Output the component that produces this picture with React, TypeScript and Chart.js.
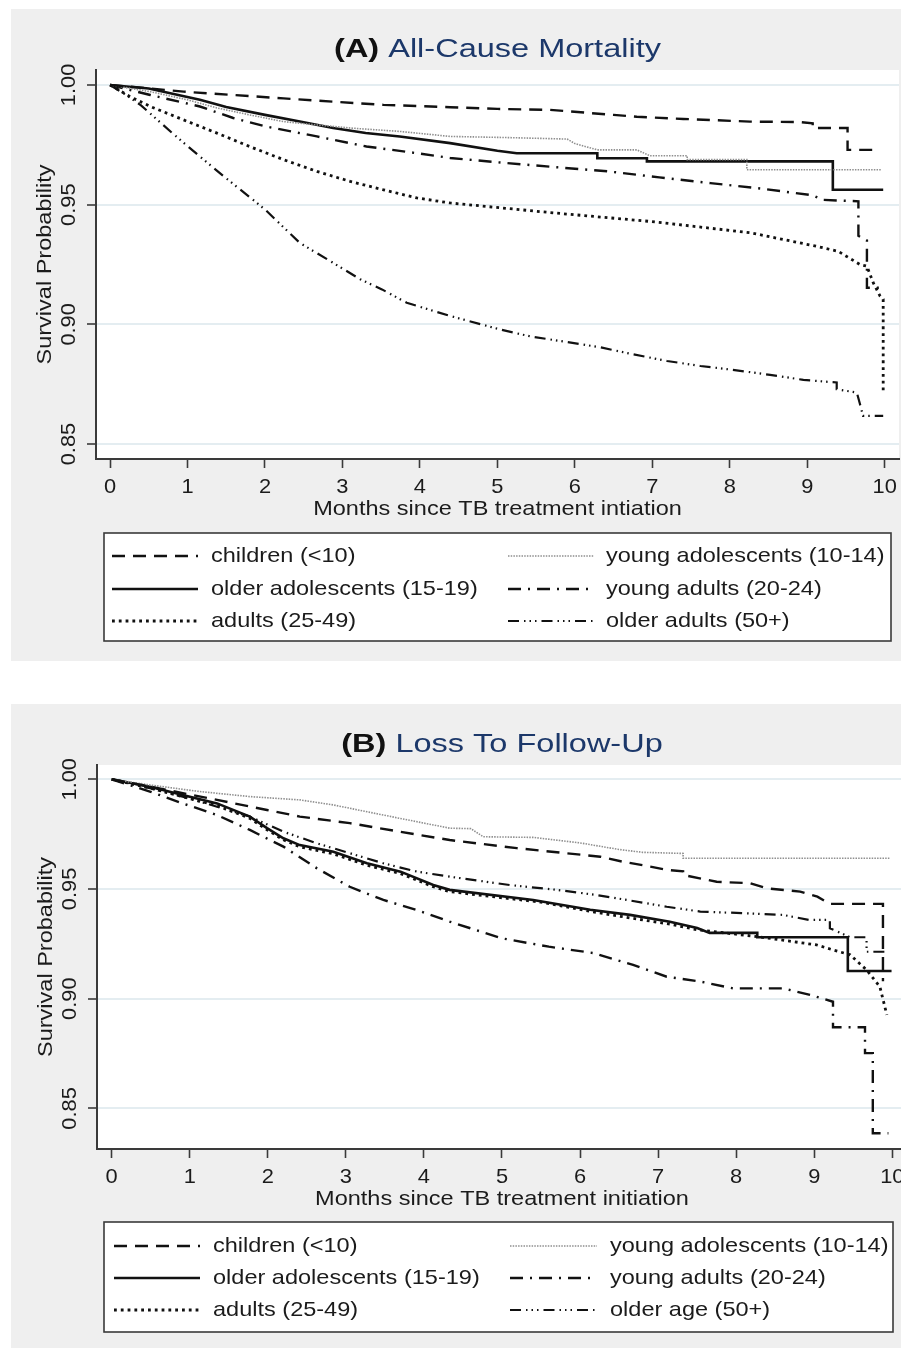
import React, { useEffect, useRef } from 'react';
import { Chart, registerables } from 'chart.js';

Chart.register(...registerables);

// ---------------- data ----------------
const monthTicks = [0, 1, 2, 3, 4, 5, 6, 7, 8, 9, 10];
const survivalTicks = [0.85, 0.9, 0.95, 1.0];
const survivalTickLabels = ['0.85', '0.90', '0.95', '1.00'];

const groupsA = [
  'children (<10)',
  'young adolescents (10-14)',
  'older adolescents (15-19)',
  'young adults (20-24)',
  'adults (25-49)',
  'older adults (50+)',
];
const groupsB = [
  'children (<10)',
  'young adolescents (10-14)',
  'older adolescents (15-19)',
  'young adults (20-24)',
  'adults (25-49)',
  'older age (50+)',
];

// Panel A: All-cause mortality (months, survival probability)
const childrenA_t = [0, 0.5, 0.95, 1.59, 2.24, 2.88, 3.53, 4.39, 5.0, 5.68, 6.5, 6.8, 7.4, 8.26, 8.9, 9.07, 9.07, 9.52, 9.52, 9.92];
const childrenA_s = [1, 0.9986, 0.9972, 0.9958, 0.9944, 0.993, 0.9917, 0.9907, 0.99, 0.9896, 0.9875, 0.9867, 0.9858, 0.9847, 0.9845, 0.984, 0.982, 0.982, 0.9729, 0.9729];

const youngAdolA_t = [0, 0.52, 1.0, 1.38, 1.8, 2.24, 2.67, 3.1, 3.74, 4.39, 5.16, 5.9, 6.0, 6.29, 6.8, 6.97, 7.45, 7.45, 8.22, 8.22, 9.96];
const youngAdolA_s = [1, 0.9972, 0.9938, 0.9904, 0.9875, 0.9847, 0.9833, 0.982, 0.9806, 0.9785, 0.978, 0.9774, 0.9755, 0.9729, 0.9729, 0.9704, 0.9704, 0.9688, 0.9688, 0.9646, 0.9646];

const olderAdolA_t = [0, 0.5, 1.16, 1.5, 2.0, 2.45, 2.88, 3.3, 3.74, 4.39, 5.0, 5.25, 6.29, 6.29, 6.93, 6.93, 9.33, 9.33, 9.98];
const olderAdolA_s = [1, 0.9985, 0.9938, 0.9908, 0.9875, 0.9847, 0.982, 0.9799, 0.9785, 0.9757, 0.9725, 0.9715, 0.9715, 0.9694, 0.9694, 0.9681, 0.9681, 0.9562, 0.9562];

const youngAdultsA_t = [0, 0.52, 1.16, 1.59, 2.02, 2.67, 3.31, 3.96, 4.39, 5.11, 5.77, 6.43, 7.09, 7.75, 8.41, 9.07, 9.2, 9.66, 9.66, 9.77, 9.77, 9.96];
const youngAdultsA_s = [1, 0.9958, 0.991, 0.9862, 0.9826, 0.9785, 0.9743, 0.9715, 0.9695, 0.9674, 0.9656, 0.9639, 0.9614, 0.959, 0.9567, 0.9539, 0.952, 0.9514, 0.937, 0.935, 0.9153, 0.9153];

const adultsA_t = [0, 0.26, 0.52, 0.95, 1.38, 1.8, 2.24, 2.67, 3.1, 3.53, 3.96, 4.39, 5.68, 6.97, 8.26, 9.12, 9.4, 9.68, 9.77, 9.85, 9.94, 9.98, 9.98];
const adultsA_s = [1, 0.9951, 0.991, 0.9854, 0.9799, 0.9743, 0.9688, 0.9639, 0.9597, 0.9562, 0.9528, 0.9507, 0.9467, 0.943, 0.9383, 0.9326, 0.9305, 0.925, 0.9243, 0.9175, 0.9118, 0.9105, 0.8715];

const olderAdultsA_t = [0, 0.2, 0.4, 0.8, 1.2, 1.5, 2.0, 2.45, 2.88, 3.23, 3.51, 3.83, 4.39, 5.03, 5.42, 5.9, 6.33, 6.75, 7.19, 7.62, 8.04, 8.52, 8.95, 9.38, 9.38, 9.64, 9.68, 9.72, 9.98];
const olderAdultsA_s = [1, 0.996, 0.9915, 0.98, 0.969, 0.961, 0.948, 0.934, 0.9257, 0.9188, 0.9146, 0.909, 0.9035, 0.8979, 0.895, 0.8926, 0.8904, 0.8875, 0.8847, 0.8826, 0.881, 0.8789, 0.8768, 0.8757, 0.8729, 0.8715, 0.8667, 0.8618, 0.8618];

// Panel B: Loss to follow-up
const childrenB_t = [0, 0.71, 1.35, 1.99, 2.41, 3.05, 3.69, 4.33, 5.19, 6.04, 6.26, 6.55, 6.9, 7.11, 7.32, 7.32, 7.75, 8.18, 8.39, 8.82, 9.04, 9.2, 9.88, 9.88];
const childrenB_s = [1, 0.9951, 0.9906, 0.986, 0.983, 0.98, 0.9761, 0.9723, 0.9686, 0.9655, 0.9647, 0.9624, 0.9602, 0.9587, 0.958, 0.9564, 0.9533, 0.9526, 0.9503, 0.9488, 0.9465, 0.9432, 0.9432, 0.908];

const youngAdolB_t = [0, 0.49, 1.13, 1.77, 2.41, 2.84, 3.27, 3.69, 4.33, 4.6, 4.76, 5.4, 6.0, 6.5, 6.8, 7.32, 7.32, 9.97];
const youngAdolB_s = [1, 0.9974, 0.9944, 0.9921, 0.9906, 0.9883, 0.9852, 0.9822, 0.9777, 0.9775, 0.9738, 0.9735, 0.971, 0.968, 0.9667, 0.9662, 0.964, 0.964];

const olderAdolB_t = [0, 0.49, 0.91, 1.35, 1.77, 1.99, 2.2, 2.41, 2.84, 3.27, 3.7, 4.12, 4.33, 5.4, 6.13, 6.64, 7.15, 7.5, 7.66, 8.27, 8.27, 9.43, 9.43, 9.99];
const olderAdolB_s = [1, 0.9966, 0.9928, 0.989, 0.983, 0.9777, 0.9731, 0.97, 0.967, 0.9617, 0.9579, 0.9518, 0.9496, 0.945, 0.9405, 0.9382, 0.9351, 0.9322, 0.93, 0.93, 0.928, 0.928, 0.9126, 0.9126];

const youngAdultsB_t = [0, 0.49, 0.91, 1.35, 1.77, 2.2, 2.63, 3.05, 3.48, 3.91, 4.33, 5.0, 5.6, 6.17, 6.68, 7.11, 7.54, 7.96, 8.6, 8.95, 9.24, 9.24, 9.65, 9.65, 9.75, 9.75, 9.95];
const youngAdultsB_s = [1, 0.9944, 0.989, 0.9837, 0.9769, 0.9693, 0.9594, 0.951, 0.945, 0.9404, 0.9351, 0.9275, 0.9237, 0.9208, 0.9154, 0.91, 0.9078, 0.9047, 0.9047, 0.9017, 0.8986, 0.887, 0.887, 0.8752, 0.8752, 0.8387, 0.8387];

const adultsB_t = [0, 0.49, 0.91, 1.35, 1.77, 1.99, 2.2, 2.41, 2.84, 3.27, 3.7, 4.12, 4.33, 5.0, 5.5, 6.13, 6.64, 7.15, 7.5, 8.27, 9.03, 9.24, 9.46, 9.67, 9.84, 9.93];
const adultsB_s = [1, 0.996, 0.992, 0.988, 0.9822, 0.977, 0.9724, 0.9692, 0.966, 0.9608, 0.957, 0.951, 0.9488, 0.946, 0.944, 0.9398, 0.9368, 0.934, 0.9314, 0.9283, 0.9245, 0.9222, 0.92, 0.9131, 0.9055, 0.8926];

const olderAdultsB_t = [0, 0.49, 0.91, 1.35, 1.77, 2.2, 2.63, 3.05, 3.48, 3.91, 4.33, 5.1, 5.7, 6.2, 6.6, 7.11, 7.54, 8.07, 8.6, 8.93, 9.2, 9.2, 9.46, 9.67, 9.67, 9.9];
const olderAdultsB_s = [1, 0.9959, 0.9921, 0.9875, 0.983, 0.9761, 0.9708, 0.9663, 0.9617, 0.9579, 0.9556, 0.9518, 0.9496, 0.9473, 0.945, 0.9419, 0.9397, 0.939, 0.9382, 0.9359, 0.9359, 0.9321, 0.928, 0.928, 0.9214, 0.9214];

const seriesA = [
  [childrenA_t, childrenA_s],
  [youngAdolA_t, youngAdolA_s],
  [olderAdolA_t, olderAdolA_s],
  [youngAdultsA_t, youngAdultsA_s],
  [adultsA_t, adultsA_s],
  [olderAdultsA_t, olderAdultsA_s],
];
const seriesB = [
  [childrenB_t, childrenB_s],
  [youngAdolB_t, youngAdolB_s],
  [olderAdolB_t, olderAdolB_s],
  [youngAdultsB_t, youngAdultsB_s],
  [adultsB_t, adultsB_s],
  [olderAdultsB_t, olderAdultsB_s],
];

// ---------------- styles ----------------
const FONT = '"Liberation Sans", Arial, Helvetica, sans-serif';
const INK = '#1b1b1b';
const AXIS = '#3a3a3a';
const GRID = '#e4edf1';
const PANEL = '#efefef';
const TITLE_BLUE = '#1c386a';
const TEXT_PX = 21;
const TEXT_SX = 1.12;
const DIGIT_SX = 1.04;
const TITLE_PX = 26;
const TITLE_SX = 1.25;

const lineStyles = [
  { color: '#111111', width: 2.4, dash: [13, 8] },
  { color: '#8f8f8f', width: 1.6, dash: [1.5, 1.2] },
  { color: '#111111', width: 2.6, dash: [] as number[] },
  { color: '#111111', width: 2.4, dash: [13, 7, 2, 7] },
  { color: '#111111', width: 2.8, dash: [2.8, 4] },
  { color: '#111111', width: 2.2, dash: [11, 5, 1.5, 4, 1.5, 4, 1.5, 5] },
];

function drawText(
  ctx: CanvasRenderingContext2D,
  s: string,
  x: number,
  y: number,
  font: string,
  color: string,
  align: CanvasTextAlign,
  sx: number,
  rot = 0
) {
  ctx.save();
  ctx.translate(x, y);
  if (rot) ctx.rotate(rot);
  ctx.scale(sx, 1);
  ctx.font = font;
  ctx.fillStyle = color;
  ctx.textAlign = align;
  ctx.textBaseline = 'middle';
  ctx.fillText(s, 0, 0);
  ctx.restore();
}

type PanelCfg = {
  left: number;
  top: number;
  width: number;
  height: number;
  area: { left: number; top: number; right: number; bottom: number };
  xMin: number;
  xMax: number;
  yMin: number;
  yMax: number;
  tag: string;
  title: string;
  xTitle: string;
  labels: string[];
  series: number[][][];
  legend: { x: number; y: number; w: number; h: number; rows: number[]; cols: { x0: number; x1: number; tx: number }[] };
};

const panelA: PanelCfg = {
  left: 11,
  top: 9,
  width: 900,
  height: 652,
  area: { left: 85, top: 61, right: 888, bottom: 450 },
  xMin: -0.181,
  xMax: 10.184,
  yMin: 0.84375,
  yMax: 1.00625,
  tag: '(A)',
  title: 'All-Cause Mortality',
  xTitle: 'Months since TB treatment intiation',
  labels: groupsA,
  series: seriesA,
  legend: {
    x: 93, y: 524, w: 787, h: 108,
    rows: [547, 580, 612],
    cols: [{ x0: 101, x1: 187, tx: 200 }, { x0: 497, x1: 583, tx: 595 }],
  },
};

const panelB: PanelCfg = {
  left: 11,
  top: 704,
  width: 910,
  height: 644,
  area: { left: 86, top: 61, right: 896, bottom: 445 },
  xMin: -0.188,
  xMax: 10.188,
  yMin: 0.8315,
  yMax: 1.0065,
  tag: '(B)',
  title: 'Loss To Follow-Up',
  xTitle: 'Months since TB treatment initiation',
  labels: groupsB,
  series: seriesB,
  legend: {
    x: 93, y: 518, w: 789, h: 110,
    rows: [542, 574, 606],
    cols: [{ x0: 103, x1: 189, tx: 202 }, { x0: 499, x1: 586, tx: 599 }],
  },
};

function makeDecor(cfg: PanelCfg) {
  return {
    id: 'decor' + cfg.tag,
    beforeDraw(chart: any) {
      const { ctx, width, height, chartArea: a } = chart;
      ctx.save();
      ctx.fillStyle = PANEL;
      ctx.fillRect(0, 0, width, height);
      ctx.fillStyle = '#ffffff';
      ctx.fillRect(a.left, a.top, a.right - a.left, a.bottom - a.top);
      ctx.restore();
    },
    afterDraw(chart: any) {
      const { ctx, chartArea: a } = chart;
      const xs = chart.scales.x;
      const ys = chart.scales.y;
      const textFont = `${TEXT_PX}px ${FONT}`;
      const cx = (a.left + a.right) / 2;
      const cy = (a.top + a.bottom) / 2;

      // title
      ctx.save();
      ctx.font = `bold ${TITLE_PX}px ${FONT}`;
      const w1 = ctx.measureText(cfg.tag + ' ').width * TITLE_SX;
      ctx.font = `${TITLE_PX}px ${FONT}`;
      const w2 = ctx.measureText(cfg.title).width * TITLE_SX;
      ctx.restore();
      const tx0 = cx - (w1 + w2) / 2;
      drawText(ctx, cfg.tag, tx0, 41, `bold ${TITLE_PX}px ${FONT}`, '#111111', 'left', TITLE_SX);
      drawText(ctx, cfg.title, tx0 + w1, 41, `${TITLE_PX}px ${FONT}`, TITLE_BLUE, 'left', TITLE_SX);

      // x tick labels + title
      monthTicks.forEach((m) => {
        drawText(ctx, String(m), xs.getPixelForValue(m), a.bottom + 28.5, textFont, INK, 'center', DIGIT_SX);
      });
      drawText(ctx, cfg.xTitle, cx, a.bottom + 50, textFont, INK, 'center', TEXT_SX);

      // y tick labels (vertical) + title
      survivalTicks.forEach((v, i) => {
        drawText(ctx, survivalTickLabels[i], a.left - 27, ys.getPixelForValue(v), textFont, INK, 'center', DIGIT_SX, -Math.PI / 2);
      });
      drawText(ctx, 'Survival Probability', a.left - 51, cy, textFont, INK, 'center', TEXT_SX, -Math.PI / 2);

      // legend
      const lg = cfg.legend;
      ctx.save();
      ctx.fillStyle = '#ffffff';
      ctx.fillRect(lg.x, lg.y, lg.w, lg.h);
      ctx.strokeStyle = AXIS;
      ctx.lineWidth = 1.6;
      ctx.strokeRect(lg.x, lg.y, lg.w, lg.h);
      ctx.restore();
      chart.data.datasets.forEach((ds: any, i: number) => {
        const col = lg.cols[i % 2];
        const y = lg.rows[Math.floor(i / 2)];
        ctx.save();
        ctx.strokeStyle = ds.borderColor;
        ctx.lineWidth = ds.borderWidth;
        ctx.setLineDash(ds.borderDash || []);
        ctx.beginPath();
        ctx.moveTo(col.x0, y);
        ctx.lineTo(col.x1, y);
        ctx.stroke();
        ctx.restore();
        drawText(ctx, ds.label, col.tx, y, textFont, INK, 'left', TEXT_SX);
      });
    },
  };
}

function KMPanel({ cfg }: { cfg: PanelCfg }) {
  const ref = useRef<HTMLCanvasElement | null>(null);
  useEffect(() => {
    if (!ref.current) return;
    const datasets = cfg.series.map(([t, s], i) => ({
      label: cfg.labels[i],
      data: t.map((x, k) => ({ x, y: s[k] })),
      borderColor: lineStyles[i].color,
      borderWidth: lineStyles[i].width,
      borderDash: lineStyles[i].dash,
      borderCapStyle: 'butt' as const,
      borderJoinStyle: 'miter' as const,
      pointRadius: 0,
      fill: false,
      tension: 0,
    }));
    const chart = new Chart(ref.current, {
      type: 'line',
      data: { datasets },
      options: {
        animation: false,
        responsive: false,
        devicePixelRatio: 1,
        events: [],
        layout: {
          autoPadding: false,
          padding: {
            left: 0,
            top: cfg.area.top,
            right: cfg.width - cfg.area.right,
            bottom: cfg.height - cfg.area.bottom - 9,
          },
        },
        scales: {
          x: {
            type: 'linear',
            min: cfg.xMin,
            max: cfg.xMax,
            afterBuildTicks: (axis: any) => {
              axis.ticks = monthTicks.map((v) => ({ value: v }));
            },
            afterFit: (axis: any) => {
              axis.height = 9;
            },
            ticks: { display: false },
            grid: { drawOnChartArea: false, drawTicks: true, tickLength: 9, tickColor: AXIS, tickWidth: 1.6 },
            border: { display: true, color: AXIS, width: 2 },
          },
          y: {
            type: 'linear',
            min: cfg.yMin,
            max: cfg.yMax,
            afterBuildTicks: (axis: any) => {
              axis.ticks = survivalTicks.map((v) => ({ value: v }));
            },
            afterFit: (axis: any) => {
              axis.width = cfg.area.left;
            },
            ticks: { display: false },
            grid: { drawOnChartArea: true, color: GRID, lineWidth: 2, drawTicks: true, tickLength: 9, tickColor: AXIS, tickWidth: 1.6 },
            border: { display: true, color: AXIS, width: 2 },
          },
        },
        plugins: {
          legend: { display: false },
          tooltip: { enabled: false },
          title: { display: false },
        },
      },
      plugins: [makeDecor(cfg)],
    } as any);
    return () => chart.destroy();
  }, [cfg]);
  return (
    <canvas
      ref={ref}
      width={cfg.width}
      height={cfg.height}
      style={{ position: 'absolute', left: cfg.left, top: cfg.top, width: cfg.width, height: cfg.height }}
    />
  );
}

export default function App() {
  return (
    <div
      style={{
        position: 'fixed',
        left: 0,
        top: 0,
        width: 901,
        height: 1348,
        overflow: 'hidden',
        background: '#ffffff',
      }}
    >
      <KMPanel cfg={panelA} />
      <KMPanel cfg={panelB} />
    </div>
  );
}
